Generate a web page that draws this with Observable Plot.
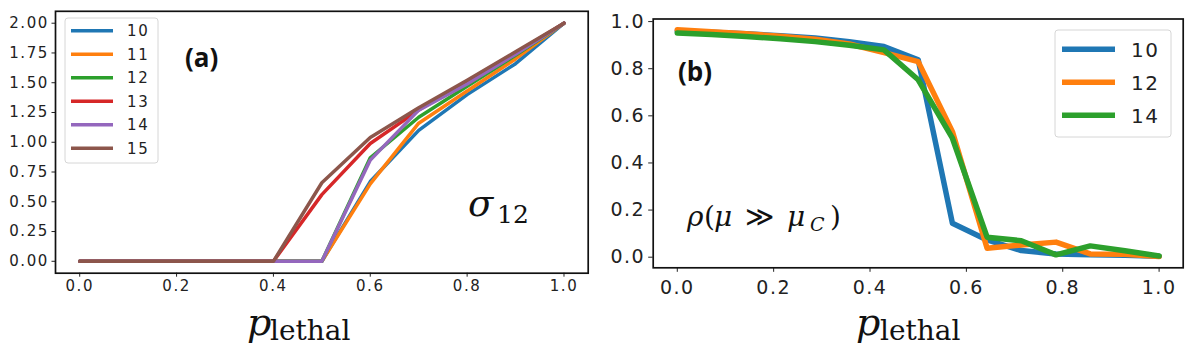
<!DOCTYPE html>
<html>
<head>
<meta charset="utf-8">
<script src="https://cdn.jsdelivr.net/npm/d3@7"></script>
<script src="https://cdn.jsdelivr.net/npm/@observablehq/plot@0.6"></script>
<style>
  html, body { margin: 0; padding: 0; background: #fff; }
  #wrap { position: relative; width: 1196px; height: 350px; overflow: hidden; background: #fff; }
  #left { position: absolute; left: 0; top: 0; }
  #right { position: absolute; left: 600px; top: 0; }
  #overlay { position: absolute; left: 0; top: 0; pointer-events: none; }
</style>
</head>
<body>
<div id="wrap">
  <div id="left"></div>
  <div id="right"></div>
  <svg id="overlay" width="1196" height="350"></svg>
</div>
<script>
// ---------- Panel (a) data ----------
const leftX = [0, 0.1, 0.2, 0.3, 0.4, 0.5, 0.6, 0.7, 0.8, 0.9, 1.0];
const leftSeries = ["10", "11", "12", "13", "14", "15"];
const leftColors = ["#1f77b4", "#ff7f0e", "#2ca02c", "#d62728", "#9467bd", "#8c564b"];
const sigma10 = [0, 0, 0, 0, 0, 0, 0.67, 1.10, 1.40, 1.66, 2.0];
const sigma11 = [0, 0, 0, 0, 0, 0, 0.65, 1.16, 1.43, 1.70, 2.0];
const sigma12 = [0, 0, 0, 0, 0, 0, 0.87, 1.21, 1.47, 1.73, 2.0];
const sigma13 = [0, 0, 0, 0, 0, 0.56, 0.99, 1.27, 1.51, 1.75, 2.0];
const sigma14 = [0, 0, 0, 0, 0, 0, 0.85, 1.27, 1.49, 1.74, 2.0];
const sigma15 = [0, 0, 0, 0, 0, 0.66, 1.04, 1.29, 1.52, 1.76, 2.0];
const leftXTicks = [0, 0.2, 0.4, 0.6, 0.8, 1.0];
const leftYTicks = [0, 0.25, 0.5, 0.75, 1.0, 1.25, 1.5, 1.75, 2.0];

// ---------- Panel (b) data ----------
const rightX = [0, 0.071, 0.143, 0.214, 0.286, 0.357, 0.429, 0.5, 0.571, 0.643, 0.714, 0.786, 0.857, 0.929, 1.0];
const rightSeries = ["10", "12", "14"];
const rightColors = ["#1f77b4", "#ff7f0e", "#2ca02c"];
const rho10 = [0.960, 0.955, 0.948, 0.940, 0.930, 0.915, 0.894, 0.838, 0.144, 0.073, 0.028, 0.014, 0.010, 0.008, 0.004];
const rho12 = [0.965, 0.957, 0.948, 0.938, 0.925, 0.905, 0.868, 0.830, 0.533, 0.038, 0.052, 0.064, 0.014, 0.012, 0.003];
const rho14 = [0.952, 0.945, 0.937, 0.927, 0.915, 0.900, 0.880, 0.753, 0.505, 0.085, 0.070, 0.010, 0.048, 0.027, 0.005];
const rightXTicks = [0, 0.2, 0.4, 0.6, 0.8, 1.0];
const rightYTicks = [0, 0.2, 0.4, 0.6, 0.8, 1.0];

const leftValues = [sigma10, sigma11, sigma12, sigma13, sigma14, sigma15];
const rightValues = [rho10, rho12, rho14];

const leftRows = [];
leftSeries.forEach((s, i) => leftValues[i].forEach((v, j) => leftRows.push({ s, x: leftX[j], y: v })));
const rightRows = [];
rightSeries.forEach((s, i) => rightValues[i].forEach((v, j) => rightRows.push({ s, x: rightX[j], y: v })));

const leftPlot = Plot.plot({
  width: 600, height: 350,
  marginLeft: 55, marginRight: 12.3, marginTop: 10.8, marginBottom: 77.3,
  style: { fontFamily: "DejaVu Sans", fontSize: "15px", letterSpacing: "1.6px", color: "#222", background: "transparent", overflow: "visible" },
  x: { domain: [-0.05, 1.05], ticks: leftXTicks, tickFormat: d3.format(".1f"), tickSize: 4, tickPadding: 3.5, label: null },
  y: { domain: [-0.1, 2.1], ticks: leftYTicks, tickFormat: d3.format(".2f"), tickSize: 3.5, tickPadding: 3, label: null },
  color: { domain: leftSeries, range: leftColors },
  marks: [
    Plot.line(leftRows, { x: "x", y: "y", z: "s", stroke: "s", strokeWidth: 3.5, strokeLinejoin: "round" }),
    Plot.frame({ stroke: "#111", strokeWidth: 1.7 })
  ]
});
document.getElementById("left").appendChild(leftPlot);

const rightPlot = Plot.plot({
  width: 596, height: 350,
  marginLeft: 52.7, marginRight: 13.3, marginTop: 18.5, marginBottom: 82.7,
  style: { fontFamily: "DejaVu Sans", fontSize: "19px", letterSpacing: "1.5px", color: "#222", background: "transparent", overflow: "visible" },
  x: { domain: [-0.05, 1.05], ticks: rightXTicks, tickFormat: d3.format(".1f"), tickSize: 4.5, tickPadding: 8, label: null },
  y: { domain: [-0.045, 1.011], ticks: rightYTicks, tickFormat: d3.format(".1f"), tickSize: 4.5, tickPadding: 3.5, label: null },
  color: { domain: rightSeries, range: rightColors },
  marks: [
    Plot.line(rightRows, { x: "x", y: "y", z: "s", stroke: "s", strokeWidth: 5.5, strokeLinejoin: "round" }),
    Plot.frame({ stroke: "#111", strokeWidth: 1.7 })
  ]
});
document.getElementById("right").appendChild(rightPlot);

// ---------- Overlay: legends and annotations ----------
const ov = d3.select("#overlay");

// Legend (a)
ov.append("rect").attr("x", 65).attr("y", 18).attr("width", 93).attr("height", 145)
  .attr("rx", 3).attr("fill", "white").attr("fill-opacity", 0.8).attr("stroke", "#d6d6d6");
leftSeries.forEach((s, i) => {
  const y = 30.7 + i * 23.5;
  ov.append("line").attr("x1", 71).attr("x2", 113).attr("y1", y).attr("y2", y)
    .attr("stroke", leftColors[i]).attr("stroke-width", 3.5);
  ov.append("text").attr("x", 127).attr("y", y + 5.5).text(s)
    .attr("font-family", "DejaVu Sans").attr("font-size", 15).attr("letter-spacing", "1.6px").attr("fill", "#222");
});

// Legend (b)
ov.append("rect").attr("x", 1055).attr("y", 30).attr("width", 116).attr("height", 107)
  .attr("rx", 3).attr("fill", "white").attr("fill-opacity", 0.8).attr("stroke", "#d6d6d6");
rightSeries.forEach((s, i) => {
  const y = 49.3 + i * 33;
  ov.append("line").attr("x1", 1062).attr("x2", 1115).attr("y1", y).attr("y2", y)
    .attr("stroke", rightColors[i]).attr("stroke-width", 5.5);
  ov.append("text").attr("x", 1131).attr("y", y + 7.2).text(s)
    .attr("font-family", "DejaVu Sans").attr("font-size", 20).attr("letter-spacing", "1.5px").attr("fill", "#222");
});

// Panel labels
ov.append("text").attr("x", 185).attr("y", 67).text("(a)")
  .attr("font-family", "Open Sans").attr("font-weight", 700).attr("font-size", 26).attr("fill", "#111");
ov.append("text").attr("x", 678).attr("y", 81).text("(b)")
  .attr("font-family", "Open Sans").attr("font-weight", 700).attr("font-size", 26).attr("fill", "#111");

// sigma_12
const sig = ov.append("text").attr("font-family", "DejaVu Serif").attr("fill", "#111");
sig.append("tspan").attr("x", 468).attr("y", 216).attr("font-style", "italic").attr("font-size", 37).text("σ");
sig.append("tspan").attr("x", 497).attr("y", 222.7).attr("font-size", 25).text("12");

// rho(mu >> mu_C)
const rho = ov.append("text").attr("font-family", "DejaVu Serif").attr("fill", "#111").attr("font-size", 28);
rho.append("tspan").attr("x", 687).attr("y", 226).attr("font-style", "italic").text("ρ");
rho.append("tspan").attr("x", 704).attr("y", 226).text("(");
rho.append("tspan").attr("x", 714).attr("y", 226).attr("font-style", "italic").text("μ");
rho.append("tspan").attr("x", 745).attr("y", 226).text("≫");
rho.append("tspan").attr("x", 787).attr("y", 226).attr("font-style", "italic").text("μ");
rho.append("tspan").attr("x", 810).attr("y", 231).attr("font-style", "italic").attr("font-size", 19).text("C");
rho.append("tspan").attr("x", 830).attr("y", 226).text(")");

// x-axis labels p_lethal
[[247, 270], [856, 880]].forEach(([px, lx]) => {
  const t = ov.append("text").attr("font-family", "DejaVu Serif").attr("fill", "#111");
  t.append("tspan").attr("x", px).attr("y", 335).attr("font-style", "italic").attr("font-size", 38).text("p");
  t.append("tspan").attr("x", lx).attr("y", 339.5).attr("font-size", 28).text("lethal");
});
</script>
</body>
</html>
